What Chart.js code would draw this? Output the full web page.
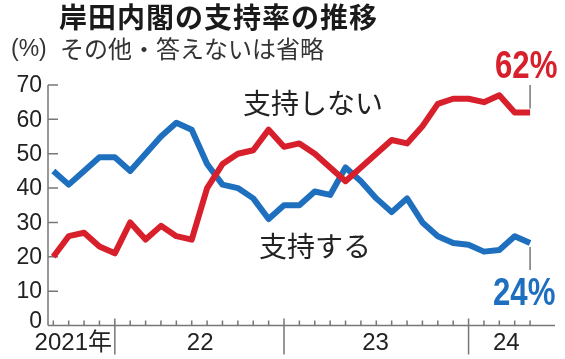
<!DOCTYPE html>
<html lang="ja">
<head>
<meta charset="utf-8">
<title>岸田内閣の支持率の推移</title>
<script src="https://cdn.jsdelivr.net/npm/chart.js@4/dist/chart.umd.min.js"></script>
<style>
  html, body { margin: 0; padding: 0; background: #fff; }
  #wrap { position: relative; width: 565px; height: 359px; }
</style>
</head>
<body>
<div id="wrap"><canvas id="chart"></canvas></div>
<script>
// monthly polls, Oct 2021 onward
const pollIndex = [0, 1, 2, 3, 4, 5, 6, 7, 8, 9, 10, 11, 12, 13, 14, 15,
  16, 17, 18, 19, 20, 21, 22, 23, 24, 25, 26, 27, 28, 29, 30, 31];
const approve = [45, 41, 45, 49, 49, 45, 50, 55, 59, 57, 47, 41, 40, 37, 31, 35,
  35, 39, 38, 46, 42, 37, 33, 37, 30, 26, 24, 23.5, 21.5, 22, 26, 24];
const disapprove = [20, 26, 27, 23, 21, 30, 25, 29, 26, 25, 40, 47, 50, 51, 57, 52,
  53, 50, 46, 42, 46, 50, 54, 53, 58, 64.5, 66, 66, 65, 67, 62, 62];
const yTicks = [0, 10, 20, 30, 40, 50, 60, 70];
const yearStarts = [4, 15, 27];
const yearLabels = ["2021年", "22", "23", "24"];
const yearLabelAt = [1.3, 9.55, 20.95, 29.45];

const RED = "#d7202b";
const BLUE = "#1f6fbf";
const AXIS = "#777777";
const TEXT = "#222222";
const LATIN = "'Liberation Sans', Arial, sans-serif";
const CJK = "'Noto Sans CJK JP', sans-serif";

function toPoints(values) {
  return values.map((value, i) => ({ x: pollIndex[i], y: value }));
}

function condensedText(ctx, text, x, y, scaleX) {
  ctx.save();
  ctx.translate(x, y);
  ctx.scale(scaleX, 1);
  ctx.fillText(text, 0, 0);
  ctx.restore();
}

const chartDecor = {
  id: "chartDecor",
  beforeDatasetsDraw(chart) {
    const { ctx, chartArea, scales: { x, y } } = chart;
    const base = y.getPixelForValue(0);
    ctx.save();
    ctx.strokeStyle = AXIS;
    ctx.lineWidth = 1.5;

    // y axis and inward ticks
    ctx.beginPath();
    ctx.moveTo(chartArea.left, y.getPixelForValue(70));
    ctx.lineTo(chartArea.left, base);
    yTicks.slice(1).forEach(t => {
      const py = y.getPixelForValue(t);
      ctx.moveTo(chartArea.left, py);
      ctx.lineTo(chartArea.left + 10, py);
    });
    ctx.stroke();

    // x axis, month ticks, year separators
    ctx.beginPath();
    ctx.moveTo(chartArea.left, base);
    ctx.lineTo(chartArea.right, base);
    pollIndex.forEach(i => {
      const px = x.getPixelForValue(i);
      ctx.moveTo(px, base);
      ctx.lineTo(px, base - 5);
    });
    yearStarts.forEach(i => {
      const px = x.getPixelForValue(i);
      ctx.moveTo(px, base - 7);
      ctx.lineTo(px, base + 29);
    });
    ctx.stroke();

    // leader lines for latest values
    const last = pollIndex.length - 1;
    const lx = x.getPixelForValue(pollIndex[last]);
    ctx.beginPath();
    ctx.moveTo(lx, 85);
    ctx.lineTo(lx, y.getPixelForValue(disapprove[last]) - 4);
    ctx.moveTo(lx, y.getPixelForValue(approve[last]) + 4);
    ctx.lineTo(lx, 270);
    ctx.stroke();
    ctx.restore();
  },
  afterDatasetsDraw(chart) {
    const { ctx, scales: { x, y } } = chart;
    ctx.save();

    ctx.fillStyle = "#1a1a1a";
    ctx.textBaseline = "middle";
    ctx.textAlign = "left";
    ctx.font = `bold 28px ${CJK}`;
    ctx.letterSpacing = "1px";
    ctx.fillText("岸田内閣の支持率の推移", 59, 17);
    ctx.letterSpacing = "0px";

    ctx.fillStyle = "#333333";
    ctx.font = `24px ${CJK}`;
    ctx.fillText("その他・答えないは省略", 60, 49);

    ctx.font = `23px ${LATIN}`;
    ctx.fillText("(%)", 11, 50);

    // y tick labels
    ctx.fillStyle = TEXT;
    ctx.textAlign = "right";
    ctx.font = `23px ${LATIN}`;
    yTicks.forEach(t => {
      const py = t === 0 ? y.getPixelForValue(0) - 5 : y.getPixelForValue(t);
      ctx.fillText(String(t), 42, py + 1);
    });

    // year labels
    ctx.textAlign = "center";
    ctx.font = `24px ${LATIN}, ${CJK}`;
    yearLabels.forEach((label, i) => {
      ctx.fillText(label, x.getPixelForValue(yearLabelAt[i]), 343);
    });

    // series labels
    ctx.textAlign = "left";
    ctx.font = `28px ${CJK}`;
    ctx.fillText("支持しない", 243, 103);
    ctx.fillText("支持する", 259, 246);

    // latest values
    const last = pollIndex.length - 1;
    ctx.textBaseline = "alphabetic";
    ctx.font = `bold 39px ${LATIN}`;
    ctx.fillStyle = RED;
    condensedText(ctx, `${disapprove[last]}%`, 495, 78, 0.8);
    ctx.fillStyle = BLUE;
    condensedText(ctx, `${approve[last]}%`, 493, 305, 0.8);

    ctx.restore();
  }
};

new Chart(document.getElementById("chart"), {
  type: "line",
  data: {
    datasets: [
      {
        label: "支持しない",
        data: toPoints(disapprove),
        borderColor: RED,
        borderWidth: 6,
        borderJoinStyle: "round",
        borderCapStyle: "butt",
        pointRadius: 0,
        tension: 0,
        order: 0
      },
      {
        label: "支持する",
        data: toPoints(approve),
        borderColor: BLUE,
        borderWidth: 6,
        borderJoinStyle: "round",
        borderCapStyle: "butt",
        pointRadius: 0,
        tension: 0,
        order: 1
      }
    ]
  },
  options: {
    responsive: true,
    maintainAspectRatio: false,
    animation: false,
    layout: { padding: { left: 48, right: 10, top: 85, bottom: 33.5 } },
    plugins: {
      legend: { display: false },
      tooltip: { enabled: false }
    },
    scales: {
      x: { type: "linear", display: false, min: -0.345, max: 32.62 },
      y: { display: false, min: 0, max: 70 }
    }
  },
  plugins: [chartDecor]
});
</script>
</body>
</html>
